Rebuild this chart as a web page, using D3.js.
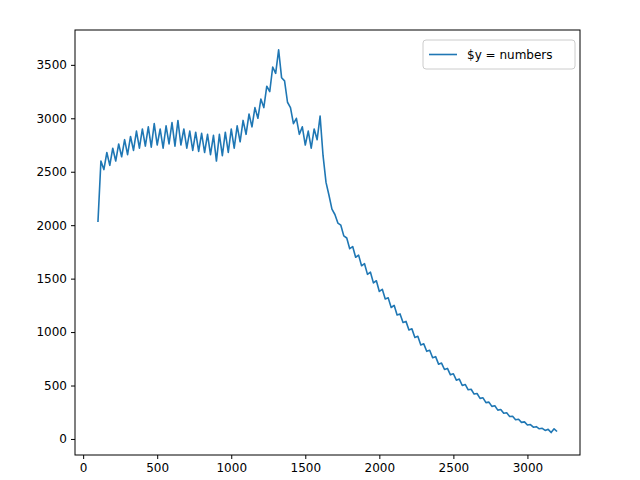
<!DOCTYPE html>
<html>
<head>
<script src="https://cdn.jsdelivr.net/npm/d3@7"></script>
<style>
  body { margin: 0; background: #fff; }
  text { font-family: "DejaVu Sans", sans-serif; }
</style>
</head>
<body>
<svg id="chart" width="640" height="480"></svg>
<script>
// y values, one every 20 units of x starting at x = 100
var xStart = 100, xStep = 20;
var yValues = [
  2030, 2600, 2520, 2680, 2560, 2720, 2600, 2760, 2640, 2800,
  2660, 2830, 2700, 2880, 2720, 2900, 2740, 2920, 2730, 2950,
  2750, 2900, 2720, 2930, 2760, 2960, 2740, 2980, 2750, 2900,
  2720, 2880, 2700, 2870, 2690, 2860, 2680, 2850, 2660, 2840,
  2600, 2850, 2650, 2870, 2680, 2900, 2720, 2930, 2780, 2980,
  2850, 3040, 2920, 3100, 3000, 3180, 3100, 3300, 3250, 3480,
  3420, 3640, 3380, 3350, 3150, 3100, 2950, 3000, 2850, 2920,
  2750, 2880, 2720, 2900, 2800, 3020, 2650, 2400, 2280, 2150,
  2100, 2020, 2000, 1900, 1880, 1780, 1800, 1700, 1720, 1620,
  1640, 1540, 1560, 1460, 1480, 1380, 1400, 1310, 1320, 1230,
  1250, 1160, 1170, 1090, 1100, 1020, 1030, 950, 960, 880,
  890, 820, 830, 760, 770, 700, 710, 650, 660, 600,
  610, 550, 560, 500, 510, 460, 465, 420, 425, 380,
  385, 340, 345, 305, 310, 270, 275, 240, 245, 210,
  212, 180, 185, 155, 160, 130, 135, 110, 115, 95,
  100, 80, 90, 60, 95, 70
];
var xTicks = [0, 500, 1000, 1500, 2000, 2500, 3000];
var yTicks = [0, 500, 1000, 1500, 2000, 2500, 3000, 3500];
var legendLabel = "$y = numbers";

var data = yValues.map(function(v, i) { return { x: xStart + i * xStep, y: v }; });

var mLeft = 75, mRight = 580, mTop = 30, mBottom = 455;
var svg = d3.select("#chart");

var x = d3.scaleLinear().domain([-55, 3355]).range([mLeft, mRight]);
var y = d3.scaleLinear().domain([-150, 3826]).range([mBottom, mTop]);

svg.append("g")
    .attr("transform", "translate(0," + mBottom + ")")
    .call(d3.axisBottom(x).tickValues(xTicks).tickFormat(d3.format("d")).tickSize(4).tickPadding(4).tickSizeOuter(0))
    .call(function(g) { g.select(".domain").remove(); g.selectAll("text").attr("font-size", 12).attr("fill", "#000"); });

svg.append("g")
    .attr("transform", "translate(" + mLeft + ",0)")
    .call(d3.axisLeft(y).tickValues(yTicks).tickFormat(d3.format("d")).tickSize(4).tickPadding(4).tickSizeOuter(0))
    .call(function(g) { g.select(".domain").remove(); g.selectAll("text").attr("font-size", 12).attr("fill", "#000"); });

var line = d3.line().x(function(d) { return x(d.x); }).y(function(d) { return y(d.y); });
svg.append("path")
    .datum(data)
    .attr("d", line)
    .attr("fill", "none")
    .attr("stroke", "#1f77b4")
    .attr("stroke-width", 1.6)
    .attr("stroke-linejoin", "round");

svg.append("rect")
    .attr("x", mLeft).attr("y", mTop)
    .attr("width", mRight - mLeft).attr("height", mBottom - mTop)
    .attr("fill", "none").attr("stroke", "#000").attr("stroke-width", 1);

// legend
var lg = svg.append("g").attr("transform", "translate(423,40)");
lg.append("rect").attr("width", 152).attr("height", 29).attr("rx", 3)
    .attr("fill", "#fff").attr("stroke", "#ccc");
lg.append("line").attr("x1", 6).attr("x2", 34).attr("y1", 14.5).attr("y2", 14.5)
    .attr("stroke", "#1f77b4").attr("stroke-width", 1.6);
lg.append("text").attr("x", 44).attr("y", 19).attr("font-size", 12).text(legendLabel);
</script>
</body>
</html>
